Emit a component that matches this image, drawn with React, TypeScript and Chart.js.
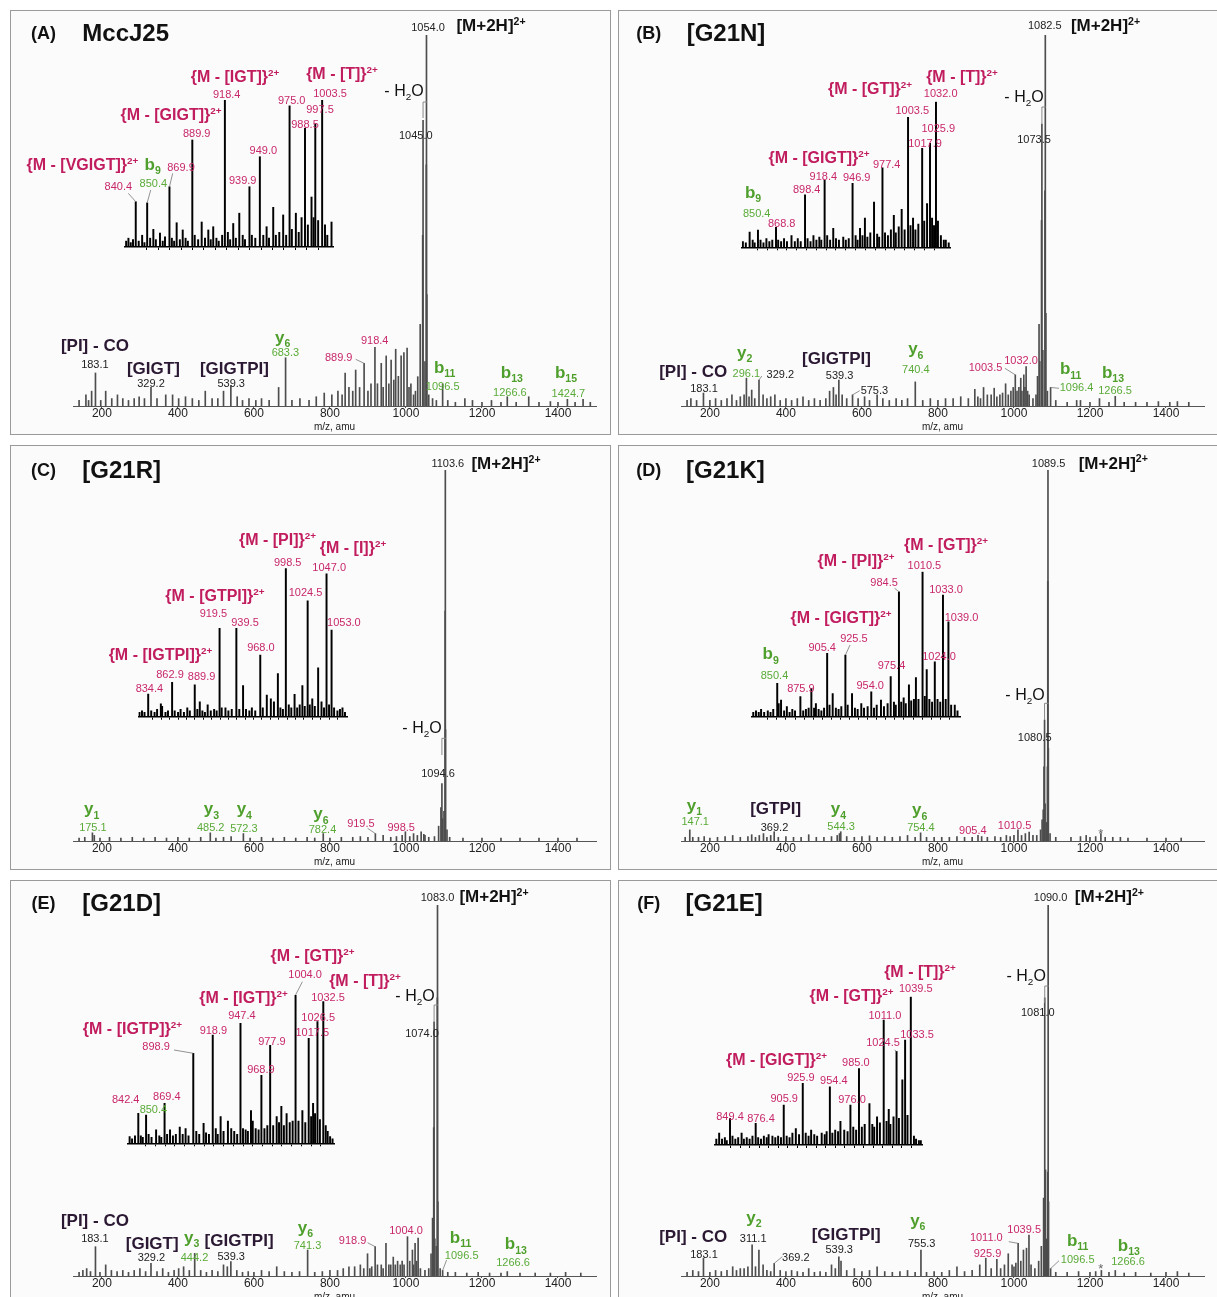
import React, { useEffect, useRef } from 'react';
import { Chart, registerables } from 'chart.js';

Chart.register(...registerables);

const FONT = '"Liberation Sans", Arial, Helvetica, sans-serif';
const PANEL_W = 601;
const PANEL_H = 425;

type Peak = [number, number];
type Label = [string, string, number, number];
type Leader = [number, number, number];

// ---------- shared axis values ----------
const MAIN_MZ_MIN = 124;
const MAIN_MZ_MAX = 1500;
const MAIN_TICKS = [200, 400, 600, 800, 1000, 1200, 1400];

// ---------- (A) MccJ25 ----------
const A_MAIN: Peak[] = [
  [140, 1.5], [158, 3], [165, 1.5], [173, 4], [183.1, 8.9], [197, 1.5], [210, 4], [226, 2], [241, 3], [255, 2], [270, 1.5], [285, 2], [298, 2.5], [312, 2], [329.2, 5], [345, 2], [368, 3], [386, 3], [402, 2], [420, 2.5], [438, 2], [455, 1.5], [472, 4], [490, 2], [505, 2], [520, 4], [539.3, 5.5], [556, 2.5], [570, 1.5], [587, 2], [605, 1.5], [620, 2], [640, 1.5], [665, 5], [683.3, 13], [700, 1.5], [721, 2], [745, 1.5], [764, 2.5], [785, 3.5], [805, 3], [821, 4], [832, 3], [840, 8.9], [850, 5], [860, 4], [867.7, 9.7], [878, 5], [889.9, 11.5], [900, 4], [908, 6], [918.4, 15.8], [925, 6], [935, 11.5], [940, 5], [948, 13.5], [955, 6], [961, 12.4], [968, 7], [973, 15.3], [980, 8], [987.3, 13.5], [994.6, 14.4], [1003, 15.6], [1008, 5], [1013, 6], [1020, 3], [1025, 4], [1031, 7.9], [1037.5, 22], [1044, 46], [1045, 77], [1050, 12], [1053.5, 65], [1054, 100], [1055, 30], [1060, 3], [1070, 2], [1080, 1.5], [1096.5, 6], [1110, 1.5], [1130, 1], [1155, 2], [1175, 1.5], [1200, 1], [1225, 1.5], [1250, 1], [1266.6, 2.5], [1290, 1], [1323, 2.5], [1350, 1], [1380, 1.2], [1400, 1], [1424.7, 1.8], [1445, 1], [1466, 1.8], [1485, 1],
];
const A_INSET: Peak[] = [
  [832, 4], [834, 6], [836, 3], [838, 5], [840.4, 30.8], [843, 4], [846, 8], [848, 3], [850.4, 30], [853, 6], [855.8, 12], [858, 5], [861.6, 9.5], [864, 4], [866, 7], [869.9, 41], [872, 6], [874, 4], [876.2, 16.5], [879, 5], [881.5, 11.6], [884, 6], [886, 4], [889.9, 72.8], [892, 8], [895, 5], [898.1, 17], [901, 6], [903.9, 11.6], [906, 5], [908.2, 13.8], [911, 6], [913, 4], [916, 8], [918.4, 100], [921, 10], [923, 5], [925.7, 16], [928, 6], [931, 23], [934, 8], [936, 5], [939.9, 41], [942, 8], [945, 6], [949, 61.4], [952, 8], [954.9, 13.8], [957, 6], [960.7, 27], [963, 8], [966, 10], [969.4, 21.8], [972, 8], [975, 96], [977, 12], [980.5, 23], [983, 10], [985.5, 20], [988.5, 80.7], [991, 15], [994.2, 34], [996, 20], [997.5, 83.7], [1000, 18], [1003.5, 100], [1006, 15], [1008, 8], [1011.7, 17],
];
const A_LABELS: Label[] = [
  ['T', '(A)', 33.5, 23.3], ['N', 'MccJ25', 115.7, 23.3], ['k', '1054.0', 418, 17.3], ['M', '[M+2H]^{2+}', 481, 15], ['H', '- H_{2}O', 394, 80.7], ['k', '1045.0', 405.8, 125],
  ['K', '[PI] - CO', 84.9, 335], ['k', '183.1', 84.9, 354.3], ['K', '[GIGT]', 143.4, 358.3], ['k', '329.2', 141, 372.7], ['K', '[GIGTPI]', 224.4, 358.3], ['k', '539.3', 221.2, 372.7],
  ['G', 'y_{6}', 272.6, 326.7], ['g', '683.3', 275.4, 342.3], ['p', '918.4', 364.7, 330], ['p', '889.9', 328.7, 347.3],
  ['G', 'b_{11}', 434.7, 356.7], ['g', '1096.5', 432.7, 375.7], ['G', 'b_{13}', 501.9, 361.7], ['g', '1266.6', 499.9, 381.7], ['G', 'b_{15}', 556, 361.7], ['g', '1424.7', 558.4, 382.7],
  ['P', '{M - [VGIGT]}^{2+}', 72.4, 155], ['G', 'b_{9}', 142.7, 154], ['p', '869.9', 171, 156.7], ['p', '840.4', 108.3, 175.7], ['g', '850.4', 143.3, 173.3],
  ['P', '{M - [GIGT]}^{2+}', 161, 105], ['p', '889.9', 186.7, 123.3], ['P', '{M - [IGT]}^{2+}', 225, 66.7], ['p', '918.4', 216.7, 84],
  ['p', '975.0', 281.7, 90], ['p', '1003.5', 320, 83.3], ['p', '997.5', 310, 99.3], ['p', '988.5', 295, 114], ['p', '949.0', 253.3, 140], ['p', '939.9', 232.7, 170], ['P', '{M - [T]}^{2+}', 332, 64],
];
const A_MAIN_LEADERS: Leader[] = [[889.9, 345.7, 349.3]];
const A_INSET_LEADERS: Leader[] = [[840.4, 118.3, 183.3], [850.4, 140.7, 180], [869.9, 162.7, 163.3]];

// ---------- (B) G21N ----------
const B_MAIN: Peak[] = [
  [140, 1.5], [150, 2], [165, 1.5], [183.1, 3.5], [200, 1.5], [215, 2], [230, 1.5], [245, 2], [258, 3], [270, 1.5], [280, 2.5], [290, 3], [296.1, 7.5], [303, 2.5], [310, 4.3], [318, 2], [329.2, 7], [340, 3], [350, 2], [360, 2.5], [371, 3], [385, 1.5], [400, 2], [415, 1.5], [430, 2], [445, 2.5], [460, 1.5], [475, 2], [490, 1.5], [505, 2], [515, 4], [525, 5], [532, 3], [539.3, 7], [548, 3], [560, 2], [575.3, 3], [590, 2], [607, 2.5], [620, 1.5], [640, 3], [655, 2], [672, 1.5], [690, 2], [705, 1.5], [720, 2], [740.4, 6.5], [760, 1.5], [780, 2], [800, 1.5], [820, 2], [840, 2], [860, 2.5], [880, 2], [897, 4.5], [905, 2.5], [912, 2], [920, 5], [930, 3], [940, 3], [948, 4.8], [955, 2.5], [963, 3], [970, 3.5], [978, 6], [985, 3], [992, 4], [998, 5], [1003.5, 8.4], [1008, 4], [1013, 5], [1017.9, 7.5], [1021, 4], [1025.9, 8.4], [1029, 5], [1032, 10.6], [1036, 4], [1040, 3], [1050, 2], [1058, 3], [1062, 8], [1066, 22], [1068, 12], [1072.5, 50], [1073.5, 76], [1076, 15], [1081.5, 58], [1082.5, 100], [1084, 25], [1088, 4], [1096.4, 5], [1110, 1.5], [1140, 1], [1165, 1.5], [1175, 1.5], [1200, 1], [1225, 2], [1250, 1], [1266.5, 2.6], [1290, 1], [1320, 1], [1350, 1], [1380, 1.2], [1410, 1], [1430, 1.2], [1460, 1],
];
const B_INSET: Peak[] = [
  [835, 4], [838, 3], [841.9, 10.4], [845, 5], [847, 3], [850.4, 11.9], [853, 5], [856, 3], [859, 6], [862, 4], [865, 5], [868.8, 13.7], [871, 5], [874, 4], [877, 6], [880, 4], [884.6, 8], [888, 4], [891, 6], [894, 4], [898.4, 36], [901, 6], [904, 4], [907, 8], [910, 5], [913, 7], [915, 5], [918.4, 46], [921, 8], [924, 5], [927.2, 13], [930, 6], [933, 5], [937.4, 7], [940, 5], [943, 6], [946.9, 44], [950, 8], [952, 5], [954.5, 13], [957, 8], [959.5, 20], [962, 7], [965, 10], [968.8, 31], [972, 9], [974, 7], [977.4, 54.5], [980, 10], [983, 8], [986, 12], [989, 22], [991, 10], [994, 14], [997, 26], [1000, 12], [1003.5, 89.3], [1006, 15], [1008.6, 20], [1011, 12], [1014, 16], [1017.9, 68], [1020, 18], [1022.9, 30], [1025.9, 71.4], [1028, 20], [1030, 15], [1032, 100], [1034, 18], [1037, 8], [1040, 5], [1042, 5], [1045, 3],
];
const B_LABELS: Label[] = [
  ['T', '(B)', 30.7, 23.3], ['N', '[G21N]', 108, 23], ['k', '1082.5', 426.8, 15], ['M', '[M+2H]^{2+}', 487.5, 15], ['H', '- H_{2}O', 406, 87], ['k', '1073.5', 416, 129.3],
  ['G', 'y_{2}', 126.7, 341.7], ['g', '296.1', 128.3, 362.7], ['k', '329.2', 162.3, 364], ['K', '[PI] - CO', 75.2, 360.7], ['k', '183.1', 86, 378.3],
  ['K', '[GIGTPI]', 218.5, 348.3], ['k', '539.3', 221.6, 365], ['k', '575.3', 256.4, 380], ['G', 'y_{6}', 297.8, 338.3], ['g', '740.4', 297.8, 359.3],
  ['p', '1003.5', 367.5, 356.7], ['p', '1032.0', 403, 350], ['G', 'b_{11}', 452.7, 358.3], ['g', '1096.4', 458.5, 377.3], ['G', 'b_{13}', 495, 361.7], ['g', '1266.5', 497, 380],
  ['G', 'b_{9}', 135, 182], ['g', '850.4', 138.7, 202.7], ['p', '868.8', 163.7, 212.7], ['p', '898.4', 188.7, 179.3], ['p', '918.4', 205.3, 166], ['p', '946.9', 238.7, 167.3], ['p', '977.4', 268.7, 154.3],
  ['P', '{M - [GIGT]}^{2+}', 201, 148], ['p', '1003.5', 294.3, 100], ['p', '1017.9', 307, 132.7], ['p', '1025.9', 320.3, 118.3], ['p', '1032.0', 322.7, 82.7],
  ['P', '{M - [GT]}^{2+}', 252, 79], ['P', '{M - [T]}^{2+}', 344, 67],
];
const B_MAIN_LEADERS: Leader[] = [[329.2, 143.8, 366], [575.3, 241.7, 380.7], [1003.5, 386.9, 358.3], [1096.4, 441, 378.3]];
const B_INSET_LEADERS: Leader[] = [];

// ---------- (C) G21R ----------
const C_MAIN: Peak[] = [
  [140, 0.8], [155, 1], [175.1, 2.2], [180, 1.5], [195, 0.8], [220, 1], [250, 0.8], [280, 1], [310, 0.8], [340, 1], [370, 0.8], [400, 1], [430, 0.8], [460, 1], [485.2, 2.2], [500, 0.8], [520, 1], [540, 1.2], [572.3, 2], [590, 0.8], [620, 1], [650, 0.8], [680, 1], [710, 0.8], [740, 1], [760, 0.8], [782.4, 2], [800, 0.8], [830, 1], [860, 1], [880, 1.2], [900, 1], [919.5, 2], [940, 1.5], [960, 1], [975, 1.2], [990, 1.5], [998.5, 2.5], [1010, 1.2], [1020, 2], [1030, 1.5], [1040, 2.5], [1047, 1.8], [1050, 1.5], [1060, 1], [1075, 1.2], [1086, 4], [1092, 9], [1094.6, 15.5], [1096, 6], [1100, 8], [1103.1, 62], [1103.6, 100], [1104.1, 30], [1108, 3], [1115, 1], [1150, 0.8], [1200, 0.8], [1250, 0.8], [1300, 0.8], [1350, 0.8], [1400, 0.8], [1450, 0.8],
];
const C_INSET: Peak[] = [
  [824, 3], [827, 4], [830, 3], [834.4, 15.3], [838, 4], [842, 3], [845, 5], [849.5, 8.6], [851, 7], [855, 3], [858, 4], [862.9, 23.2], [866, 4], [870, 3], [873, 5], [877, 3], [881, 6], [884, 4], [889.9, 21.4], [893, 5], [895.9, 10], [899, 4], [902, 3], [905.3, 8], [909, 4], [913, 5], [916, 4], [919.5, 59.5], [922, 6], [926.5, 6], [930, 4], [934, 5], [939.5, 59.5], [943, 5], [947.5, 21], [951, 5], [955, 4], [958, 6], [962, 4], [968, 41.6], [971, 6], [975.8, 14.6], [980.6, 12], [984.3, 10], [989, 29], [992, 6], [995, 5], [998.5, 100], [1002, 8], [1005, 6], [1008.9, 15], [1012, 6], [1015, 8], [1018.2, 21], [1021, 7], [1024.5, 78], [1027, 8], [1030, 12], [1033, 7], [1037, 33], [1041, 10], [1044, 6], [1047, 96.2], [1050, 8], [1053, 58.4], [1056, 6], [1060, 4], [1063, 5], [1066, 6], [1069, 3],
];
const C_LABELS: Label[] = [
  ['T', '(C)', 33.5, 25], ['N', '[G21R]', 111.7, 25], ['k', '1103.6', 437.8, 18.3], ['M', '[M+2H]^{2+}', 496, 18], ['H', '- H_{2}O', 412, 283.3], ['k', '1094.6', 428, 328.3],
  ['G', 'y_{1}', 81.7, 363.3], ['g', '175.1', 82.9, 381.7], ['G', 'y_{3}', 201.5, 363.3], ['g', '485.2', 200.7, 382.3], ['G', 'y_{4}', 234.3, 363.3], ['g', '572.3', 233.9, 383.3],
  ['G', 'y_{6}', 311, 368.3], ['g', '782.4', 312.5, 384.3], ['p', '919.5', 350.9, 378.3], ['p', '998.5', 391.2, 381.7],
  ['P', '{M - [IGTPI]}^{2+}', 150.5, 210], ['p', '834.4', 139.4, 243.3], ['p', '862.9', 160, 229.3], ['p', '889.9', 191.6, 231],
  ['P', '{M - [GTPI]}^{2+}', 205, 151], ['p', '919.5', 203.4, 167.7], ['p', '939.5', 235, 176.7], ['p', '968.0', 250.9, 201.7],
  ['P', '{M - [PI]}^{2+}', 267.5, 95], ['p', '998.5', 277.7, 116.7], ['P', '{M - [I]}^{2+}', 343, 103], ['p', '1047.0', 319.2, 122.3], ['p', '1024.5', 295.5, 146.7], ['p', '1053.0', 333.9, 177.3],
];
const C_MAIN_LEADERS: Leader[] = [[919.5, 357.6, 383.3]];
const C_INSET_LEADERS: Leader[] = [];

// ---------- (D) G21K ----------
const D_MAIN: Peak[] = [
  [135, 1], [147.1, 3], [155, 1], [170, 1], [185, 1.2], [200, 0.8], [220, 1], [240, 1.2], [260, 1.5], [280, 1], [300, 1.2], [310, 1.7], [320, 1], [330, 1.5], [341, 2], [350, 1], [360, 1.5], [369.2, 2.5], [380, 1], [400, 1.2], [420, 1], [440, 1], [460, 1.7], [480, 1], [500, 1], [520, 1.2], [535, 1.5], [541, 2], [544.3, 2.5], [560, 1.2], [580, 1], [600, 1.2], [620, 1.4], [640, 1], [660, 1.2], [680, 1], [700, 1.2], [720, 1.5], [740, 1], [754.4, 2.2], [770, 1], [790, 1], [810, 1], [830, 1], [850, 1.2], [870, 1], [890, 1], [905.4, 1.5], [915, 1.2], [930, 1], [950, 1.2], [965, 1], [980, 1.5], [990, 1.2], [1000, 1.5], [1010.5, 3], [1020, 1.5], [1030, 2], [1040, 2.4], [1050, 1.5], [1060, 1.5], [1070, 3], [1074, 5.7], [1077, 8.4], [1079, 20], [1080.5, 32.6], [1082, 10], [1086, 5], [1088, 20], [1089, 70], [1089.5, 100], [1090.5, 25], [1095, 2], [1110, 1], [1150, 1], [1175, 1.2], [1190, 1.5], [1200, 1], [1215, 1.2], [1228.7, 2], [1240, 1], [1260, 1], [1280, 1], [1300, 0.8], [1350, 0.8], [1400, 0.8], [1440, 0.8],
];
const D_INSET: Peak[] = [
  [824, 3], [827, 4], [830, 3], [832.6, 5], [836, 3], [840, 4], [843, 3], [846, 5], [850.4, 23], [852, 9], [854.6, 11.5], [858, 4], [861, 7], [864, 3], [867, 5], [870, 4], [875.9, 13.8], [879, 4], [882, 5], [885, 6], [888, 19.6], [891, 6], [893, 9], [896, 5], [899, 4], [902, 6], [905.4, 43.7], [908, 8], [911.5, 16], [915, 6], [918, 5], [921, 7], [925.5, 42.5], [928, 8], [932.8, 16], [936, 6], [939, 5], [943, 9], [946, 6], [950, 7], [954, 17.2], [957, 6], [960, 8], [964.7, 11.5], [968, 7], [972, 9], [975.4, 27.6], [979, 10], [981, 8], [984.5, 86.2], [987, 10], [989.7, 13], [992, 9], [995.5, 22], [998, 11], [1001, 12], [1003.2, 27], [1006, 12], [1010.5, 100], [1013, 14], [1015.1, 32.5], [1018, 12], [1021, 10], [1024, 37.9], [1027, 12], [1030, 10], [1033, 83.9], [1036, 12], [1039, 65.5], [1042, 8], [1046, 8], [1049, 4],
];
const D_LABELS: Label[] = [
  ['T', '(D)', 30.7, 25], ['N', '[G21K]', 107.4, 25], ['k', '1089.5', 430.6, 17.7], ['M', '[M+2H]^{2+}', 495.3, 17.7], ['H', '- H_{2}O', 407, 250], ['k', '1080.5', 416.7, 291.7],
  ['G', 'y_{1}', 76.4, 360], ['g', '147.1', 77.2, 375.7], ['K', '[GTPI]', 157.7, 363.3], ['k', '369.2', 156.5, 381.7], ['G', 'y_{4}', 220.4, 363.3], ['g', '544.3', 223.1, 380.7],
  ['G', 'y_{6}', 301.7, 364.3], ['g', '754.4', 302.9, 381.7], ['p', '905.4', 354.8, 385], ['p', '1010.5', 396.6, 380], ['S', '*', 482.9, 388.3],
  ['G', 'b_{9}', 152.7, 208.3], ['g', '850.4', 156.5, 230], ['p', '875.9', 182.9, 243.3], ['P', '{M - [GIGT]}^{2+}', 223, 173], ['p', '905.4', 204.2, 201.7], ['p', '925.5', 235.9, 193.3],
  ['p', '954.0', 252.2, 240], ['p', '975.4', 273.5, 220], ['P', '{M - [PI]}^{2+}', 238, 116], ['p', '984.5', 266.1, 136.7], ['P', '{M - [GT]}^{2+}', 328, 100],
  ['p', '1010.5', 306.4, 120], ['p', '1033.0', 328, 144.3], ['p', '1039.0', 343.5, 171.7], ['p', '1024.0', 321, 211],
];
const D_MAIN_LEADERS: Leader[] = [];
const D_INSET_LEADERS: Leader[] = [[925.5, 232, 200], [984.5, 276.6, 143.3]];

// ---------- (E) G21D ----------
const E_MAIN: Peak[] = [
  [140, 1], [150, 1.5], [160, 2], [170, 1.2], [183.1, 7.9], [195, 1], [210, 3], [225, 1.5], [240, 1.2], [255, 1.5], [270, 1], [285, 1.5], [300, 2], [315, 1.2], [329.2, 3.4], [345, 1.2], [360, 2], [375, 1], [390, 1.5], [402, 2], [415, 2.5], [430, 1.5], [444.2, 6.1], [460, 1.5], [475, 1], [490, 1.5], [505, 1.2], [520, 3], [530, 2.5], [539.3, 3.9], [555, 1.5], [570, 1], [585, 1.2], [600, 1], [620, 1.5], [640, 1.2], [660, 2.5], [680, 1.2], [700, 1], [720, 1.2], [741.3, 7], [760, 1], [780, 1.2], [800, 1.5], [820, 1.5], [835, 2], [850, 2.5], [865, 2.5], [880, 3], [889, 2], [898.9, 6], [905, 2], [910, 2.5], [918.9, 7.9], [925, 3], [935, 3], [940, 2], [947.4, 8.8], [955, 3], [960, 3], [966.6, 5.1], [972, 3], [978, 4], [985, 3], [990, 4], [995, 3], [1004, 10.6], [1010, 4], [1017, 7], [1020, 3], [1024, 8.8], [1028, 4], [1032, 10.2], [1038, 2], [1050, 1.5], [1060, 2], [1066, 6], [1070, 15.6], [1073, 40], [1074, 68.5], [1076, 10], [1080, 8], [1082.5, 75], [1083, 100], [1084, 20], [1090, 2], [1096.5, 1.5], [1110, 1], [1130, 1], [1160, 0.8], [1190, 1], [1220, 0.8], [1250, 0.8], [1266.6, 1.2], [1300, 0.8], [1340, 0.8], [1380, 0.8], [1420, 1], [1460, 0.8],
];
const E_INSET: Peak[] = [
  [833.5, 4.5], [836, 3], [839, 5], [842.4, 20.2], [845, 5], [847, 4], [850.4, 19.1], [853, 6], [856, 4], [860.7, 9], [864, 5], [866, 4], [869.4, 27], [872, 6], [875, 9], [878, 5], [881, 6], [885, 11], [888, 6], [891, 10], [894, 5], [898.9, 60.7], [902, 8], [905, 6], [909.5, 13.5], [912, 7], [915, 6], [918.9, 73], [922, 10], [924, 6], [927, 18], [930, 8], [934.5, 15], [937.9, 10], [941, 8], [944, 6], [947.4, 80.9], [950, 10], [952.7, 9], [955, 8], [958.2, 22], [960, 15], [963, 10], [966, 9], [968.9, 45.8], [972, 10], [975, 12], [977.9, 66], [981, 12], [984.6, 18], [987, 14], [989.4, 25], [992, 12], [994.8, 20], [998, 14], [1001, 15], [1004, 100], [1007, 15], [1011, 22], [1014, 14], [1017.5, 70.8], [1020, 18], [1022, 27], [1024, 20], [1026.5, 82], [1029, 16], [1032.5, 95.5], [1035, 12], [1037, 8], [1039.5, 4.5], [1042, 3],
];
const E_LABELS: Label[] = [
  ['T', '(E)', 33.5, 23.3], ['N', '[G21D]', 111.7, 23.3], ['k', '1083.0', 427.5, 17.3], ['M', '[M+2H]^{2+}', 484, 16], ['H', '- H_{2}O', 405, 116], ['k', '1074.0', 412, 152.7],
  ['K', '[PI] - CO', 84.9, 340], ['k', '183.1', 84.9, 358.3], ['K', '[GIGT]', 142.2, 362.7], ['k', '329.2', 141.4, 377.3], ['G', 'y_{3}', 181.7, 356.7], ['g', '444.2', 184.5, 376.7],
  ['K', '[GIGTPI]', 229.1, 360], ['k', '539.3', 221.2, 375.7], ['G', 'y_{6}', 295.5, 346.7], ['g', '741.3', 297.5, 365], ['p', '918.9', 342.6, 360], ['p', '1004.0', 396, 350],
  ['G', 'b_{11}', 450.5, 356.7], ['g', '1096.5', 451.7, 375], ['G', 'b_{13}', 505.8, 363.3], ['g', '1266.6', 503, 382.3],
  ['P', '{M - [IGTP]}^{2+}', 122.5, 149], ['p', '898.9', 146.1, 166], ['p', '918.9', 203.4, 150], ['P', '{M - [IGT]}^{2+}', 233.5, 118], ['p', '947.4', 231.9, 135],
  ['p', '968.9', 250.9, 189.3], ['p', '977.9', 261.9, 160.7], ['P', '{M - [GT]}^{2+}', 302.5, 76], ['p', '1004.0', 295.1, 94], ['P', '{M - [T]}^{2+}', 355, 101],
  ['p', '1032.5', 318, 116.7], ['p', '1026.5', 308.2, 136.7], ['p', '1017.5', 302.3, 152.3], ['p', '842.4', 115.7, 219.3], ['g', '850.4', 143.4, 229.3], ['p', '869.4', 156.8, 216],
];
const E_MAIN_LEADERS: Leader[] = [[918.9, 357.6, 362.7], [1096.5, 436.6, 380]];
const E_INSET_LEADERS: Leader[] = [[898.9, 164, 170], [1004, 292.4, 101.7]];

// ---------- (F) G21E ----------
const F_MAIN: Peak[] = [
  [140, 1], [155, 1.5], [170, 1.2], [183.1, 4.8], [200, 1], [215, 1.5], [230, 1.2], [245, 1.5], [260, 2.5], [270, 1.5], [280, 2], [290, 2], [300, 2.5], [311.1, 8.4], [320, 2.5], [329, 7], [340, 3], [350, 1.5], [360, 1.2], [369.2, 3.4], [385, 1.5], [400, 1.2], [415, 1.5], [430, 1.2], [445, 1], [460, 2], [475, 1], [490, 1.2], [505, 1], [520, 3], [530, 2], [539.3, 5.2], [545, 4], [560, 1.5], [580, 2], [600, 1.2], [620, 1.5], [640, 2.5], [660, 1.2], [680, 1], [700, 1.2], [720, 1.5], [740, 1], [755.3, 7], [770, 1], [790, 1.2], [810, 1], [830, 1.5], [850, 2.5], [870, 1.2], [890, 1.5], [910, 3], [925.9, 4.8], [940, 2], [955, 4.5], [965, 2], [975, 3], [985, 6], [995, 3], [1000, 2.5], [1005, 3.5], [1011, 8.8], [1018, 4], [1025, 7], [1033, 7.5], [1039.5, 11], [1045, 3], [1055, 2], [1065, 4], [1072, 8], [1078, 21], [1081, 75], [1083, 28.6], [1086, 10], [1089, 28], [1090, 100], [1091, 20], [1096.5, 2], [1110, 1], [1140, 1], [1170, 1.2], [1200, 1], [1215, 1.2], [1230, 1.5], [1250, 1], [1266.6, 1.5], [1290, 0.8], [1320, 1], [1360, 0.8], [1400, 1], [1430, 1.2], [1460, 0.8],
];
const F_INSET: Peak[] = [
  [835, 4], [838, 8], [841, 4], [844, 5], [846, 3], [849.4, 18], [852, 6], [855, 4], [858, 5], [861.6, 8], [864, 4], [867, 5], [870, 4], [873, 6], [876.4, 14.6], [879, 5], [882, 4], [885, 6], [888, 5], [890, 7], [894, 6], [897, 5], [900, 6], [903, 5], [905.9, 27], [909, 6], [912, 5], [915, 8], [918.6, 11], [922, 7], [925.9, 41.6], [929, 8], [932, 6], [934.7, 10], [938, 7], [941, 6], [945.8, 8], [949, 7], [951, 9], [954.4, 39.3], [957, 8], [960, 10], [963, 9], [965.5, 16], [969.5, 10], [973, 9], [976, 27], [979, 12], [982, 10], [985, 51.5], [988, 12], [991, 14], [996, 28], [999, 14], [1001, 12], [1004, 19], [1007, 15], [1011, 84.3], [1014, 16], [1016.3, 24], [1018, 14], [1021.3, 19], [1024.5, 63.1], [1027, 18], [1030.6, 44], [1033.5, 70.8], [1036, 20], [1039.5, 100], [1042.8, 6], [1045, 4], [1048, 3], [1050, 3],
];
const F_LABELS: Label[] = [
  ['T', '(F)', 30.7, 23.3], ['N', '[G21E]', 106.2, 23.3], ['k', '1090.0', 432.6, 16.7], ['M', '[M+2H]^{2+}', 491.4, 16], ['H', '- H_{2}O', 408.2, 96], ['k', '1081.0', 419.8, 131.7],
  ['K', '[PI] - CO', 75.2, 356], ['k', '183.1', 86, 374], ['G', 'y_{2}', 136, 336.7], ['k', '311.1', 135.2, 358.3], ['k', '369.2', 177.8, 377.3],
  ['K', '[GIGTPI]', 228.2, 354], ['k', '539.3', 221.2, 369.3], ['G', 'y_{6}', 299.8, 340], ['k', '755.3', 303.7, 362.7],
  ['p', '1011.0', 368.3, 356.7], ['p', '925.9', 369.5, 373.3], ['p', '1039.5', 406.2, 349], ['G', 'b_{11}', 459.7, 360], ['g', '1096.5', 459.7, 379.3], ['S', '*', 482.9, 388.3],
  ['G', 'b_{13}', 510.8, 365], ['g', '1266.6', 510, 381],
  ['P', '{M - [GIGT]}^{2+}', 158.5, 180], ['p', '849.4', 112, 236], ['p', '876.4', 143, 238.3], ['p', '905.9', 166.2, 218.3], ['p', '925.9', 182.9, 197.3], ['p', '954.4', 215.8, 200],
  ['p', '976.0', 234, 219.3], ['p', '985.0', 237.8, 181.7], ['P', '{M - [GT]}^{2+}', 233.5, 116], ['p', '1011.0', 266.9, 135], ['p', '1024.5', 265, 161.7],
  ['p', '1033.5', 299, 154.3], ['P', '{M - [T]}^{2+}', 302, 92], ['p', '1039.5', 297.8, 108.3],
];
const F_MAIN_LEADERS: Leader[] = [[369.2, 164.3, 376.7], [1011, 390.8, 361.7], [1096.5, 441, 380.7]];
const F_INSET_LEADERS: Leader[] = [[1024.5, 276.6, 170]];

// ---------- layout (not data) ----------
// inset box: [left px, right px, top px, baseline px, m/z min, m/z max]
const PANELS = [
  { left: 10, top: 10, main: A_MAIN, inset: A_INSET, labels: A_LABELS, ml: A_MAIN_LEADERS, il: A_INSET_LEADERS, bracket: [1045, 92, 108], box: [115, 323, 90, 237, 831, 1013] },
  { left: 618, top: 10, main: B_MAIN, inset: B_INSET, labels: B_LABELS, ml: B_MAIN_LEADERS, il: B_INSET_LEADERS, bracket: [1073.5, 97, 114], box: [123.7, 332, 91.7, 237.3, 833.8, 1046.3] },
  { left: 10, top: 445, main: C_MAIN, inset: C_INSET, labels: C_LABELS, ml: C_MAIN_LEADERS, il: C_INSET_LEADERS, bracket: [1094.6, 293.3, 310], box: [128.3, 337, 123.3, 271.7, 822.6, 1071.4] },
  { left: 618, top: 445, main: D_MAIN, inset: D_INSET, labels: D_LABELS, ml: D_MAIN_LEADERS, il: D_INSET_LEADERS, bracket: [1080.5, 258.3, 275], box: [134, 342.4, 126.7, 271.7, 822.6, 1052.2] },
  { left: 10, top: 880, main: E_MAIN, inset: E_INSET, labels: E_LABELS, ml: E_MAIN_LEADERS, il: E_INSET_LEADERS, bracket: [1074, 125, 141.7], box: [117.3, 324, 115, 263.3, 831.1, 1043.5] },
  { left: 618, top: 880, main: F_MAIN, inset: F_INSET, labels: F_LABELS, ml: F_MAIN_LEADERS, il: F_INSET_LEADERS, bracket: [1081, 106, 123], box: [96.5, 304.8, 116.7, 265, 833.1, 1052.1] },
];

const KIND_STYLE: Record<string, React.CSSProperties> = {
  p: { fontSize: 11, color: '#c8286b' },
  g: { fontSize: 11, color: '#5aab38' },
  k: { fontSize: 11, color: '#222' },
  P: { fontSize: 16, fontWeight: 700, color: '#c01c5e' },
  G: { fontSize: 17, fontWeight: 700, color: '#4f9f2c' },
  K: { fontSize: 17, fontWeight: 700, color: '#2b1833' },
  H: { fontSize: 16, color: '#111' },
  T: { fontSize: 18, fontWeight: 700, color: '#111' },
  N: { fontSize: 24, fontWeight: 700, color: '#111' },
  M: { fontSize: 17, fontWeight: 700, color: '#111' },
  S: { fontSize: 13, color: '#666' },
};

function renderText(t: string) {
  const parts = t.split(/(\^\{[^}]*\}|_\{[^}]*\})/).filter((p) => p !== '');
  return parts.map((p, i) => {
    if (p.startsWith('^{')) return <span key={i} style={{ fontSize: '0.62em', position: 'relative', top: '-0.6em' }}>{p.slice(2, -1)}</span>;
    if (p.startsWith('_{')) return <span key={i} style={{ fontSize: '0.62em', position: 'relative', top: '0.4em' }}>{p.slice(2, -1)}</span>;
    return <span key={i}>{p}</span>;
  });
}

function overlayPlugin(leaders: Leader[], bracket: number[] | null) {
  return {
    id: 'overlay',
    afterDatasetsDraw(chart: any) {
      const { ctx } = chart;
      const xs = chart.scales.x;
      const ys = chart.scales.y;
      const data = chart.data.datasets[0].data as { x: number; y: number }[];
      ctx.save();
      ctx.strokeStyle = '#777';
      ctx.lineWidth = 0.8;
      for (const [mz, lx, ly] of leaders) {
        const pk = data.find((d) => d.x === mz);
        if (!pk) continue;
        ctx.beginPath();
        ctx.moveTo(lx, ly);
        ctx.lineTo(xs.getPixelForValue(mz), ys.getPixelForValue(pk.y));
        ctx.stroke();
      }
      if (bracket) {
        const px = xs.getPixelForValue(bracket[0]);
        ctx.strokeStyle = '#888';
        ctx.lineWidth = 1;
        ctx.beginPath();
        ctx.moveTo(px + 4, bracket[1]);
        ctx.lineTo(px, bracket[1]);
        ctx.lineTo(px, bracket[2]);
        ctx.stroke();
      }
      ctx.restore();
    },
  };
}

function Spectrum(props: { peaks: Peak[]; inset: boolean; box?: number[]; leaders: Leader[]; bracket: number[] | null }) {
  const ref = useRef<HTMLCanvasElement>(null);
  useEffect(() => {
    const { peaks, inset, box, leaders, bracket } = props;
    const data = peaks.map(([x, y]) => ({ x, y }));
    let xScale: any;
    let padding: any;
    if (inset && box) {
      const [l, r, t, b, mn, mx] = box;
      padding = { left: l, right: PANEL_W - r, top: t, bottom: PANEL_H - b - 3 };
      xScale = {
        type: 'linear', min: mn, max: mx, offset: false,
        grid: { display: true, drawOnChartArea: false, drawTicks: true, tickLength: 3, color: '#000', lineWidth: 1, offset: false },
        border: { display: true, color: '#000', width: 1.6 },
        ticks: { display: false, stepSize: 10 },
        afterBuildTicks: (ax: any) => { ax.ticks = ax.ticks.filter((tk: any) => tk.value % 10 === 0); },
      };
    } else {
      padding = { left: 63, right: 15, top: 25, bottom: 2 };
      xScale = {
        type: 'linear', min: MAIN_MZ_MIN, max: MAIN_MZ_MAX, offset: false,
        grid: { display: true, drawOnChartArea: false, drawTicks: true, tickLength: 2, color: '#555', offset: false },
        border: { display: true, color: '#555', width: 1 },
        ticks: {
          font: { family: FONT, size: 12, lineHeight: 1 }, color: '#222', padding: 0, maxRotation: 0, minRotation: 0, autoSkip: false,
          callback: (v: any) => String(v),
        },
        title: { display: true, text: 'm/z, amu', font: { family: FONT, size: 10, lineHeight: 1.2 }, color: '#222', padding: { top: 1, bottom: 0 } },
        afterBuildTicks: (ax: any) => { ax.ticks = MAIN_TICKS.map((v) => ({ value: v })); },
      };
    }
    const chart = new Chart(ref.current as HTMLCanvasElement, {
      type: 'bar',
      data: {
        datasets: [{
          data: data as any,
          backgroundColor: inset ? '#000' : '#4d4d4d',
          barThickness: inset ? 1.3 : 1,
          borderWidth: 0,
        }],
      },
      options: {
        animation: false,
        responsive: false,
        maintainAspectRatio: false,
        events: [],
        layout: { padding },
        plugins: { legend: { display: false }, tooltip: { enabled: false } },
        scales: {
          x: xScale,
          y: { display: false, min: 0, max: 100 },
        },
      } as any,
      plugins: [overlayPlugin(leaders, bracket)],
    });
    return () => chart.destroy();
  }, []);
  return <canvas ref={ref} width={PANEL_W} height={PANEL_H} style={{ position: 'absolute', left: 0, top: 0 }} />;
}

function Panel({ p }: { p: (typeof PANELS)[number] }) {
  return (
    <div style={{ position: 'absolute', left: p.left, top: p.top, width: PANEL_W, height: PANEL_H, background: '#fbfbfb', boxShadow: 'inset 0 0 0 1px #9a9a9a' }}>
      <Spectrum peaks={p.main} inset={false} leaders={p.ml} bracket={p.bracket} />
      <Spectrum peaks={p.inset} inset={true} box={p.box} leaders={p.il} bracket={null} />
      <div style={{ position: 'absolute', left: 0, top: 0, width: PANEL_W, height: PANEL_H, pointerEvents: 'none' }}>
        {p.labels.map(([k, t, x, y], i) => (
          <span key={i} style={{ position: 'absolute', left: x, top: y, transform: 'translate(-50%, -50%)', whiteSpace: 'nowrap', lineHeight: 1, fontFamily: FONT, ...KIND_STYLE[k] }}>
            {renderText(t)}
          </span>
        ))}
      </div>
    </div>
  );
}

export default function App() {
  return (
    <div style={{ position: 'absolute', left: 0, top: 0, width: 1217, height: 1297, overflow: 'hidden', background: '#fff' }}>
      {PANELS.map((p, i) => <Panel key={i} p={p} />)}
    </div>
  );
}
